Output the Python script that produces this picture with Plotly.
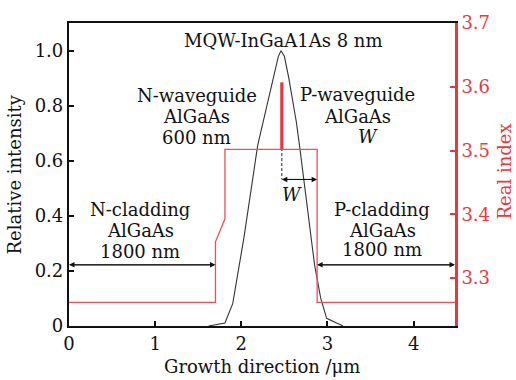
import plotly.graph_objects as go

# Normalised optical intensity across the epitaxial stack
pos_um = [1.62, 1.81, 1.90, 1.96, 2.03, 2.19, 2.25, 2.31, 2.37, 2.43, 2.46,
          2.50, 2.55, 2.60, 2.64, 2.68, 2.82, 2.85, 2.92, 2.99, 3.18]
intensity = [0.0, 0.011, 0.081, 0.197, 0.320, 0.656, 0.738, 0.808, 0.902, 0.979, 0.999,
             0.979, 0.902, 0.808, 0.738, 0.644, 0.303, 0.222, 0.103, 0.028, 0.0]

# Refractive-index profile (right axis)
idx_pos = [0.0, 1.70, 1.70, 1.81, 1.81, 2.88, 2.88, 4.48]
idx_val = [3.262, 3.262, 3.357, 3.393, 3.502, 3.502, 3.262, 3.262]

# Quantum-well spike
qw_pos = [2.47, 2.47]
qw_val = [3.502, 3.607]

x_ticks = [0, 1, 2, 3, 4]
y_ticks = [0, 0.2, 0.4, 0.6, 0.8, 1.0]
y_tick_text = ["0", "0.2", "0.4", "0.6", "0.8", "1.0"]
y2_ticks = [3.3, 3.4, 3.5, 3.6, 3.7]

RED = "#e8383d"
INK = "#111111"
FONT = "DejaVu Serif"
FS = 18

fig = go.Figure()
fig.add_trace(go.Scatter(x=idx_pos, y=idx_val, yaxis="y2", mode="lines",
                         line=dict(color="#f05055", width=1.3), showlegend=False))
fig.add_trace(go.Scatter(x=qw_pos, y=qw_val, yaxis="y2", mode="lines",
                         line=dict(color=RED, width=3.2), showlegend=False))
fig.add_trace(go.Scatter(x=pos_um, y=intensity, mode="lines",
                         line=dict(color="#333333", width=1.1), showlegend=False))
# dashed guide from the well down to the W arrow
fig.add_trace(go.Scatter(x=[2.47, 2.47], y=[0.646, 0.532], mode="lines",
                         line=dict(color="#222222", width=1, dash="3px,2px"),
                         showlegend=False))

ann = []


def text(x, y, s):
    ann.append(dict(x=x, y=y, xref="x", yref="y", text=s, showarrow=False,
                    xanchor="center", yanchor="middle",
                    font=dict(family=FONT, size=FS, color=INK)))


def double_arrow(x0, x1, y):
    for a, b in ((x0, x1), (x1, x0)):
        ann.append(dict(x=b, y=y, ax=a, ay=y, xref="x", yref="y", axref="x", ayref="y",
                        text="", showarrow=True, arrowhead=2, arrowsize=1.1,
                        arrowwidth=1, arrowcolor=INK, standoff=0, startstandoff=0))


text(2.494, 1.037, "MQW-InGaA1As 8 nm")

# layer labels, one line each
text(1.48, 0.838, "N-waveguide")
text(1.48, 0.759, "AlGaAs")
text(1.48, 0.685, "600 nm")

text(3.353, 0.839, "P-waveguide")
text(3.353, 0.759, "AlGaAs")
text(3.466, 0.689, "<i>W</i>")

text(0.824, 0.422, "N-cladding")
text(0.824, 0.346, "AlGaAs")
text(0.824, 0.272, "1800 nm")

text(3.637, 0.422, "P-cladding")
text(3.637, 0.348, "AlGaAs")
text(3.637, 0.276, "1800 nm")

text(2.584, 0.478, "<i>W</i>")

double_arrow(0.0, 1.70, 0.222)
double_arrow(2.88, 4.48, 0.222)
double_arrow(2.47, 2.88, 0.532)

# axis titles
ann.append(dict(x=0.5, y=-0.134, xref="paper", yref="paper", text="Growth direction /μm",
                xanchor="center", yanchor="middle", showarrow=False,
                font=dict(family=FONT, size=FS, color=INK)))
ann.append(dict(x=-0.140, y=0.5, xref="paper", yref="paper", text="Relative intensity",
                xanchor="center", yanchor="middle", textangle=-90, showarrow=False,
                font=dict(family=FONT, size=FS, color=INK)))
ann.append(dict(x=1.127, y=0.51, xref="paper", yref="paper", text="Real index",
                xanchor="center", yanchor="middle", textangle=-90, showarrow=False,
                font=dict(family=FONT, size=FS, color=RED)))

tickfont = dict(family=FONT, size=FS, color=INK)
fig.update_layout(
    width=516, height=380,
    margin=dict(l=69, r=61, t=13, b=54),
    paper_bgcolor="white", plot_bgcolor="white",
    annotations=ann,
    xaxis=dict(range=[0, 4.48], tickvals=x_ticks, ticks="inside", ticklen=5, tickwidth=1.5,
               tickcolor=INK, showline=True, linecolor=INK, linewidth=2.2,
               mirror=True, showgrid=False, zeroline=False, tickfont=tickfont),
    yaxis=dict(range=[0, 1.1], tickvals=y_ticks, ticktext=y_tick_text, ticks="inside",
               ticklen=5, tickwidth=1.5, tickcolor=INK, showline=True,
               linecolor=INK, linewidth=2.2, showgrid=False, zeroline=False,
               tickfont=tickfont),
    yaxis2=dict(range=[3.225, 3.70], overlaying="y", side="right", tickvals=y2_ticks,
                ticktext=["3.3", "3.4", "3.5", "3.6", "3.7"],
                ticks="inside", ticklen=5, tickwidth=1.5, tickcolor=RED, showline=True,
                linecolor=RED, linewidth=2.6, showgrid=False, zeroline=False,
                tickfont=dict(family=FONT, size=FS, color=RED)),
)

fig.write_html("out.html")
